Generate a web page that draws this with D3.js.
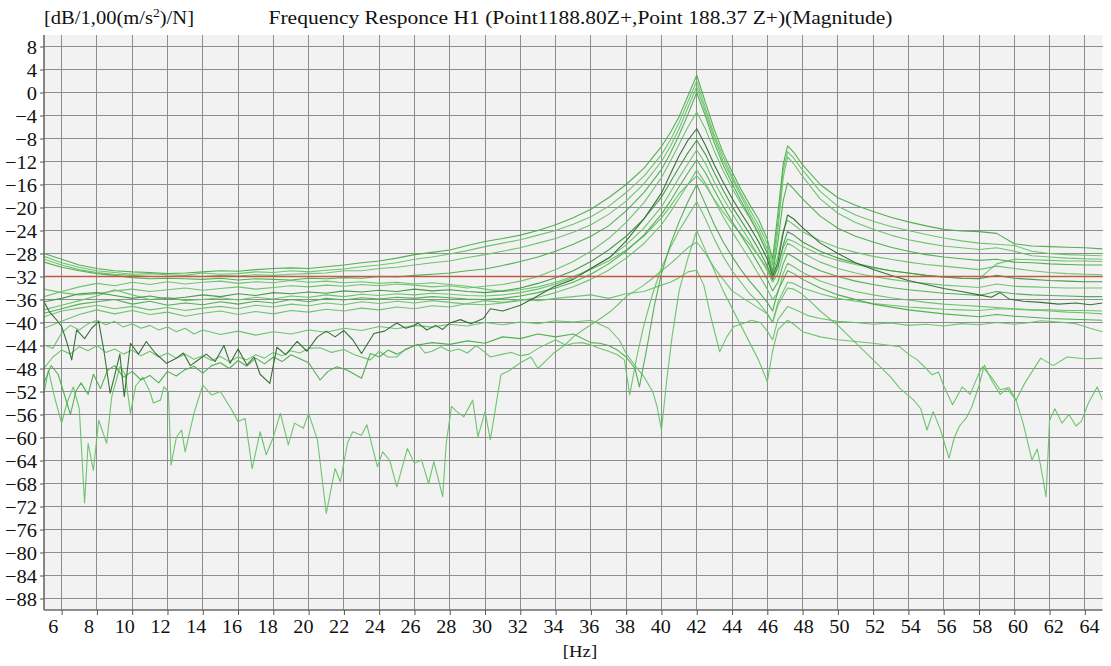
<!DOCTYPE html>
<html>
<head>
<meta charset="utf-8">
<script src="https://cdn.jsdelivr.net/npm/d3@7"></script>
<style>
  html, body { margin: 0; padding: 0; background: #ffffff; }
  svg { display: block; }
  svg text { font-family: "Liberation Serif", "Times New Roman", serif; fill: #111; }
</style>
</head>
<body>
<svg id="chart" width="1111" height="666"></svg>
<script>
// ---- axis ticks ----
const xTicks = d3.range(6, 65, 2);          // 6 .. 64 Hz
const yTicks = d3.range(-88, 9, 4);         // -88 .. 8 dB
const refLevel = -32;                        // reference level line (dB)

// ---- shared frequency grid for the smooth responses (Hz) ----
const freqCoarse = [5,6,7,8,9,10,11,12,13,14,15,16,17,18,19,20,21,22,23,24,25,26,27,28,29,30,31,32,33,34,
  35,36,37,38,39,40,40.5,41,41.5,42,42.5,43,43.5,44,44.5,45,45.5,46,46.3,46.6,46.9,47.15,47.5,48,
  49,50,51,52,53,54,55,56,57,58,59,60,61,62,63,64,65];

// ---- magnitudes on freqCoarse (dB) ----
const u1 = [-28.0,-29.0,-30.0,-30.6,-31.0,-31.2,-31.3,-31.5,-31.4,-31.2,
  -31.0,-31.1,-30.8,-30.6,-30.5,-30.6,-30.3,-30.0,-29.6,-29.3,
  -28.8,-28.2,-27.8,-27.4,-26.6,-25.9,-25.4,-24.8,-24.0,-23.0,
  -21.8,-20.3,-18.3,-16.0,-13.2,-9.4,
  -7.0,-4.2,-0.6,3.0,-1.8,-6.5,-10.5,-13.8,-16.8,-19.5,-22.0,-25.5,
  -29.0,-21.0,-12.5,-9.3,-10.4,-12.6,
  -16.0,-18.3,-19.6,-20.7,-21.7,-22.5,-23.2,-23.8,-24.1,
  -24.2,-24.5,-26.3,-26.7,-26.8,-26.9,-27.0,-27.2];
const u2 = [-28.5,-29.6,-30.4,-31.0,-31.3,-31.6,-31.5,-31.7,-31.8,-31.4,
  -31.6,-31.5,-31.2,-31.3,-31.0,-31.2,-30.9,-30.7,-30.3,-30.0,
  -29.6,-29.0,-28.6,-28.1,-27.5,-26.8,-26.2,-25.6,-24.8,-24.0,
  -22.9,-21.6,-19.8,-17.4,-14.6,-10.8,
  -8.3,-5.2,-1.6,2.0,-2.8,-7.4,-11.2,-14.5,-17.5,-20.3,-23.0,-26.3,
  -30.0,-22.5,-13.5,-10.3,-11.4,-13.5,
  -17.2,-19.8,-21.3,-22.4,-23.3,-24.0,-24.7,-25.3,-25.8,
  -26.2,-26.4,-26.6,-27.6,-28.0,-28.2,-28.3,-28.4];
const u3 = [-29.0,-30.0,-30.8,-31.3,-31.6,-31.8,-32.0,-32.0,-31.9,-32.0,
  -31.8,-31.9,-31.7,-31.8,-31.6,-31.5,-31.4,-31.0,-31.0,-30.6,
  -30.4,-30.0,-29.6,-29.3,-28.7,-28.2,-27.6,-27.0,-26.2,-25.4,
  -24.3,-23.0,-21.2,-18.9,-15.9,-12.0,
  -9.4,-6.3,-2.6,1.0,-3.5,-8.0,-11.9,-15.0,-18.0,-21.0,-23.8,-27.2,
  -31.0,-24.0,-14.8,-11.2,-12.4,-14.6,
  -18.5,-21.0,-22.6,-23.8,-24.8,-25.6,-26.2,-26.7,-27.0,
  -27.3,-27.0,-27.6,-28.4,-28.6,-28.8,-28.9,-29.0];
const u4 = [-29.5,-30.4,-31.0,-31.5,-31.8,-32.2,-32.4,-32.3,-32.4,-32.5,
  -32.3,-32.6,-32.4,-32.5,-32.6,-32.3,-32.4,-32.2,-32.3,-32.0,
  -32.1,-31.8,-31.6,-31.4,-31.0,-30.7,-30.1,-29.4,-28.6,-27.6,
  -26.4,-25.0,-23.2,-20.6,-17.4,-13.4,
  -10.6,-7.4,-3.8,0.0,-4.2,-8.8,-12.6,-15.8,-18.8,-21.6,-24.6,-28.0,
  -31.5,-26.0,-18.8,-15.7,-16.8,-18.5,
  -21.5,-23.6,-25.0,-26.0,-26.9,-27.6,-28.2,-28.6,-28.9,
  -29.2,-29.0,-29.5,-29.6,-29.8,-29.9,-30.0,-30.0];
const m1 = [-34.2,-34.8,-35.2,-35.0,-34.5,-34.2,-34.6,-34.3,-34.0,-34.4,
  -34.1,-33.8,-34.2,-33.9,-33.6,-33.8,-33.5,-33.7,-33.4,-33.6,
  -33.3,-33.5,-33.8,-33.6,-34.0,-33.7,-33.4,-32.8,-32.0,-30.8,
  -29.4,-27.6,-25.4,-22.6,-19.2,-14.8,
  -12.0,-9.0,-6.0,-3.4,-6.4,-10.2,-13.6,-16.6,-19.3,-21.8,-24.5,-28.0,
  -31.5,-28.5,-24.0,-22.2,-23.0,-24.2,
  -25.8,-27.0,-27.8,-28.5,-29.0,-29.5,-29.9,-30.2,-30.5,
  -30.8,-30.2,-30.6,-31.0,-31.3,-31.5,-31.6,-31.7];
const m2 = [-36.4,-35.8,-35.0,-34.8,-35.3,-35.8,-35.4,-35.9,-35.6,-35.2,
  -35.5,-35.0,-35.3,-34.8,-35.0,-34.7,-34.9,-34.5,-34.7,-34.4,
  -34.6,-34.2,-34.5,-34.3,-34.6,-34.8,-34.5,-34.0,-33.2,-32.2,
  -31.0,-29.4,-27.4,-25.0,-22.0,-18.2,
  -15.6,-13.0,-10.5,-8.3,-10.8,-14.0,-17.0,-19.8,-22.2,-24.6,-27.2,-30.2,
  -32.5,-30.5,-26.5,-24.2,-24.8,-26.0,
  -27.6,-28.8,-29.7,-30.4,-31.0,-31.4,-31.8,-32.1,-32.3,
  -32.4,-31.8,-32.3,-32.5,-32.7,-32.8,-32.9,-32.9];
const m3 = [-37.8,-37.0,-36.2,-35.4,-34.3,-35.2,-36.0,-35.6,-36.2,-36.0,
  -35.7,-36.1,-35.6,-35.9,-35.4,-35.6,-35.2,-35.5,-35.1,-35.3,
  -35.0,-35.2,-34.9,-35.1,-35.3,-35.4,-35.2,-34.8,-34.2,-33.3,
  -32.2,-30.6,-28.8,-26.5,-23.6,-19.9,
  -17.4,-14.8,-12.4,-10.0,-12.4,-15.6,-18.4,-21.0,-23.4,-25.8,-28.4,-31.0,
  -33.0,-31.5,-28.2,-26.2,-26.8,-27.9,
  -29.5,-30.6,-31.4,-32.0,-32.5,-32.9,-33.2,-33.5,-33.7,
  -33.9,-33.3,-33.7,-33.8,-33.9,-34.0,-34.0,-34.0];
const m4 = [-38.4,-37.6,-36.8,-36.4,-36.0,-36.8,-36.3,-37.0,-36.6,-36.9,
  -36.4,-36.8,-36.3,-36.6,-36.0,-36.4,-35.8,-36.1,-35.7,-35.9,
  -35.6,-35.8,-35.5,-35.7,-35.9,-36.0,-35.8,-35.4,-34.8,-34.0,
  -33.0,-31.6,-29.8,-27.6,-24.8,-21.2,
  -18.9,-16.4,-14.0,-11.7,-14.0,-17.0,-19.8,-22.4,-24.8,-27.2,-29.8,-32.5,
  -34.5,-33.0,-29.8,-28.0,-28.6,-29.6,
  -31.0,-32.0,-32.8,-33.4,-33.9,-34.3,-34.6,-34.9,-35.1,
  -35.3,-34.6,-35.0,-35.2,-35.3,-35.4,-35.5,-35.5];
const m5 = [-39.0,-38.0,-37.5,-37.0,-37.6,-37.2,-37.8,-37.4,-37.9,-37.5,
  -37.2,-37.6,-37.0,-37.3,-36.8,-37.1,-36.6,-36.9,-36.4,-36.7,
  -36.3,-36.6,-36.2,-36.5,-36.8,-36.9,-36.6,-36.2,-35.6,-34.8,
  -33.8,-32.5,-30.9,-28.8,-26.3,-23.0,
  -20.8,-18.4,-16.0,-13.5,-15.8,-18.8,-21.6,-24.2,-26.6,-29.0,-31.6,-34.2,
  -36.0,-34.8,-31.5,-29.7,-30.3,-31.3,
  -32.8,-33.8,-34.6,-35.2,-35.7,-36.1,-36.5,-36.8,-37.0,
  -37.2,-37.4,-37.6,-37.8,-38.0,-38.2,-38.3,-38.5];
const m6 = [-35.5,-34.6,-33.8,-33.2,-33.6,-33.0,-33.4,-32.9,-33.3,-33.0,
  -32.8,-33.2,-32.9,-33.1,-32.7,-33.0,-32.8,-33.1,-32.9,-33.2,
  -33.0,-33.3,-33.1,-33.4,-33.7,-34.2,-34.6,-34.3,-33.8,-33.0,
  -32.0,-30.8,-29.3,-27.4,-25.0,-21.8,
  -19.8,-17.6,-16.0,-14.5,-16.2,-18.6,-20.8,-22.8,-24.6,-26.4,-28.4,-30.6,
  -32.6,-30.0,-27.0,-25.5,-25.9,-26.8,
  -28.2,-29.2,-29.9,-30.5,-31.0,-31.4,-31.8,-32.1,-32.3,
  -32.4,-29.8,-29.0,-29.1,-29.2,-29.3,-29.3,-29.4];

// ---- responses with their own frequency points: [Hz, dB] ----
const darkTrace = [[5,-36.4],[5.3,-38.1],[5.7,-39.5],[6,-40.7],[6.3,-43.5],[6.57,-46.5],[6.85,-41.3],[7.3,-42.8],
  [7.7,-41],[8.1,-39.8],[8.4,-45],[8.75,-52.3],[9,-49.3],[9.3,-45.5],[9.55,-52.9],[9.9,-43.6],[10.35,-45.5],
  [10.8,-43.3],[11.3,-45.3],[11.95,-47.1],[12.5,-46.2],[12.9,-45.3],[13.3,-47.5],[13.66,-46.7],[14.2,-45.5],
  [14.7,-46.8],[15.2,-44],[15.55,-47.1],[16,-44.6],[16.5,-47.4],[16.9,-46],[17.25,-49],[17.8,-50.6],[18.2,-44.3],
  [18.7,-45.6],[19.35,-43.3],[19.9,-45],[20.5,-42.5],[21,-41.5],[21.5,-42.5],[22,-41.4],[22.5,-43],[23,-45.4],
  [23.7,-41.9],[24.3,-41.5],[25,-40.1],[25.5,-41],[25.95,-40.6],[26.2,-40.1],[26.7,-41.3],[27.2,-40.5],[27.6,-41.2],
  [28,-40.1],[28.6,-39.5],[29.2,-40.2],[29.9,-39.3],[30.3,-37.6],[31,-38],[32,-37],[32.75,-35.8],[33.9,-33.8],
  [35,-32.5],[36,-30.6],[37.1,-28.6],[38,-25.8],[39,-22],[40,-17.5],[40.5,-14.2],[41,-11],[41.5,-8.3],[42,-6.3],
  [42.5,-9.2],[43,-12.6],[43.5,-15.6],[44,-18.4],[44.5,-20.9],[45,-23.3],[45.5,-25.9],[46,-29],[46.3,-32],
  [46.6,-29.5],[46.9,-24.5],[47.15,-21.3],[47.5,-22],[48,-23.5],[49,-26.2],[50,-28],[51,-29.6],[52,-30.8],
  [53,-31.8],[54,-32.7],[55,-33.4],[56,-34.1],[57,-34.6],[58,-35.2],[58.7,-35.6],[59.2,-34.8],[59.7,-35.9],
  [60.5,-36.3],[61.5,-36.5],[62.5,-36.8],[63.5,-36.6],[64.3,-36.9],[65,-36.6]];

const r1 = [[5,-43.9],[5.5,-44.5],[6,-41.8],[6.5,-40.5],[7,-41.3],[7.5,-40.2],[8,-39.6],[8.5,-40.4],[9,-39.8],
  [9.5,-40.8],[10,-40.2],[10.5,-41],[11,-40.5],[11.5,-41.3],[12,-40.8],[12.5,-41.6],[13,-41],[13.5,-42],[14,-41.3],
  [15,-42.1],[16,-41.5],[17,-42.2],[18,-41.6],[19,-42],[20,-41.3],[21,-41.7],[22,-41],[23,-41.4],[24,-40.7],
  [25,-41.1],[26,-40.5],[27,-40.8],[28,-40.3],[29,-40.6],[30,-40],[31,-40.4],[32,-39.9],[33,-40.2],[34,-39.7],
  [35,-39.9],[36,-39.6],[37,-41],[37.6,-43],[38,-45.4],[38.5,-47.5],[39,-49.4],[39.5,-52],[39.75,-54.6],[40,-58.7],
  [40.3,-50],[40.6,-42.5],[41,-34.5],[41.5,-28.8],[42,-24],[42.5,-27.5],[43,-31],[43.5,-34.5],[44,-37.5],
  [44.5,-40.5],[45,-43.5],[45.5,-46.5],[46,-50.3],[46.3,-45],[46.6,-41.3],[47.15,-39.6],[47.5,-40.3],[48,-41.6],
  [49,-42.5],[50,-43],[51,-43.3],[52,-43.6],[53,-44],[53.5,-44.2],[54,-45.5],[54.5,-46.5],[55,-48],[55.35,-49.1],
  [55.7,-48.6],[56,-51],[56.5,-54.3],[57.05,-51.2],[57.5,-52.5],[58,-48.8],[58.2,-47.7],[58.7,-49.5],[59.2,-51.7],
  [59.7,-51.3],[60.1,-53.5],[60.6,-50.5],[61.5,-46.2],[62.2,-47.5],[63,-46],[64,-46.3],[65,-46.2]];

const r2 = [[5,-48],[5.5,-46],[6,-44.8],[6.5,-45.5],[7,-44.2],[7.5,-44.9],[8,-44],[8.5,-45.2],[9,-44.6],[9.5,-45.5],
  [10,-44.8],[10.5,-45.8],[11,-45],[11.5,-46],[12,-45.3],[12.5,-46.2],[13,-45.5],[13.5,-46.4],[14,-45.8],[14.5,-46.6],
  [15,-45.9],[15.5,-46.8],[16,-46],[16.5,-46.5],[17,-45.6],[17.5,-46.2],[18,-45.2],[18.5,-45.8],[19,-44.9],
  [19.5,-45.3],[20,-44.5],[20.65,-44.4],[21.3,-45.2],[22,-44.7],[22.6,-45.6],[23.5,-46.5],[24,-45],[24.5,-46],
  [25,-46],[25.5,-44.6],[26.2,-43.8],[26.6,-45.3],[27,-45],[27.5,-44.2],[28,-45],[28.5,-44.6],[29,-45.3],[29.5,-44],
  [30,-45.2],[30.3,-46],[31,-45.5],[31.5,-45.2],[32,-45.8],[32.5,-45.5],[33,-44.5],[34,-43],[34.6,-44],[35,-43.6],
  [35.5,-43.5],[36,-43.9],[36.4,-44.4],[37,-45],[37.5,-45.6],[37.9,-46.5],[38.2,-52.6],[38.6,-46],[39,-40.5],
  [39.5,-35],[40,-30.5],[40.5,-27],[41,-24],[41.5,-21.5],[42,-19],[42.5,-22],[43,-25.5],[43.5,-28.5],[44,-31],
  [44.5,-33],[45,-35],[45.5,-36.5],[46,-38.5],[46.3,-40],[46.6,-36.5],[47.15,-33],[47.5,-33.2],[48,-34],[49,-35],
  [50,-35.8],[51,-36.3],[52,-36.7],[53,-37],[54,-37.3],[55,-37.5],[56,-37.7],[57,-37.8],[58,-37.9],[59,-37.6],
  [60,-37.7],[61,-37.8],[62,-37.8],[63,-37.9],[64,-37.9],[65,-38]];

const r3 = [[5,-50.5],[5.4,-47.5],[5.8,-49],[6.2,-53],[6.5,-56],[6.8,-52],[7.1,-50.5],[7.5,-52.5],[7.8,-49],
  [8.2,-51.5],[8.6,-48.3],[9,-47.5],[9.5,-49.5],[10,-48.5],[10.5,-50],[11,-49.2],[11.5,-50.5],[12,-48.5],
  [12.5,-49.3],[13,-48.2],[13.5,-47.6],[14,-48.8],[14.5,-47.5],[15,-47],[15.5,-48],[16,-46.6],[16.5,-47.6],
  [17,-46.2],[17.5,-47.2],[18,-46],[18.5,-46.8],[19,-45.6],[19.5,-46.3],[20,-47],[20.65,-50],[21.1,-48.5],
  [21.6,-47.7],[22.2,-48.3],[23,-49.7],[23.5,-45.4],[24,-46],[24.5,-44.8],[25,-45.5],[26,-44],[27,-43.5],
  [28,-43.8],[29,-43.2],[30,-43.6],[31,-42.5],[32,-42.8],[33,-42],[34,-42.5],[35,-42],[36,-43.5],[36.5,-43.6],
  [37,-44],[37.5,-44.8],[38,-46],[38.5,-48],[38.75,-51.2],[39.2,-44],[39.6,-37],[40,-31.5],[40.5,-26.5],
  [41,-22.5],[41.5,-19],[42,-16],[42.5,-19.5],[43,-23],[43.5,-26],[44,-28.5],[44.5,-30.8],[45,-32.8],[45.5,-34.6],
  [46,-36.5],[46.3,-38],[46.6,-34.5],[47.15,-31],[47.5,-31.5],[48,-32.5],[49,-34],[50,-35.2],[52,-36.8],
  [54,-37.8],[56,-38.5],[58,-39],[59,-38.6],[60,-38.9],[62,-39.3],[65,-39.6]];

const r4 = [[5,-41],[6,-39.8],[7,-38.6],[8,-37.8],[9,-38.5],[10,-37.9],[11,-38.6],[12,-38.2],[13,-38.9],[14,-38.4],
  [15,-38],[16,-38.6],[17,-38.1],[18,-38.5],[19,-37.9],[20,-38.2],[21,-37.7],[22,-38],[23,-37.5],[24,-37.8],
  [25,-37.3],[26,-37.6],[27,-37.1],[28,-37.3],[29,-36.7],[30,-36.2],[31,-36.5],[32,-36],[33,-36.2],[34,-35.8],
  [35,-35.5],[36,-35.2],[37,-35.8],[38,-35],[39,-34.6],[40,-33.5],[40.5,-33],[41,-32.2],[41.5,-31.2],[42,-30.9],
  [42.4,-33.5],[42.8,-39],[43.3,-45.1],[43.7,-42.5],[44.1,-40.7],[44.6,-40.2],[45.1,-39.6],[45.6,-40],[46,-41.5],
  [46.3,-43],[46.6,-39.5],[47.15,-37.2],[47.6,-37.8],[48.3,-38.8],[49,-39.3],[50,-39.8],[51,-40],[52,-40.3],
  [53,-40.1],[54,-40.5],[55,-40.3],[56,-40.6],[57,-40.2],[58,-40.4],[59,-40],[60,-40.3],[60.7,-40.1],[61.5,-39.7],
  [62.5,-39.9],[63.5,-40.2],[64.3,-41],[65,-41.6]];

const n1 = [[5,-52.3],[5.25,-48.3],[5.6,-53],[6,-57.5],[6.3,-54],[6.66,-51.2],[7,-55],[7.3,-71.4],[7.5,-61],
  [7.8,-65.7],[8.1,-57],[8.55,-61],[8.84,-52.9],[9.1,-50],[9.3,-47.7],[9.6,-49],[9.9,-55.8],[10.2,-51],[10.6,-49.5],
  [11,-52],[11.2,-54],[11.6,-53.5],[11.8,-51.2],[12.05,-52],[12.2,-64.8],[12.5,-60],[12.8,-58.7],[13,-62.5],
  [13.5,-55.8],[13.85,-52.3],[14,-50.9],[14.5,-52.6],[15,-52],[15.4,-54],[15.7,-55.5],[16,-57.2],[16.4,-56.7],
  [16.8,-65.4],[17.25,-59],[17.6,-63],[18,-59.9],[18.4,-55.8],[18.85,-61.3],[19.2,-57.5],[19.7,-58.4],[20,-55.8],
  [20.5,-60.4],[21,-73.2],[21.5,-65.4],[21.8,-67.7],[22.2,-61],[22.5,-59],[23,-59.6],[23.3,-57.8],[23.9,-65.1],
  [24.2,-62.5],[24.6,-64],[25,-68.6],[25.6,-61.9],[26,-64.5],[26.4,-63.9],[26.8,-68],[27.1,-64.2],[27.6,-70.3],
  [27.8,-61],[28.1,-54.6],[28.4,-55.5],[28.8,-56.4],[29.3,-53.5],[29.6,-59.9],[30,-55.5],[30.3,-60.4],[30.9,-49.1],
  [31.4,-48.3],[32,-47],[32.6,-46],[33,-48],[33.5,-46.5],[33.9,-45.3],[34.5,-44],[35,-42.5],[35.7,-41],[36.4,-39.6],
  [37.1,-38.1],[37.5,-37],[38,-35.5],[38.5,-34.5],[39,-33.5],[39.5,-32.3],[40,-31],[40.5,-29.8],[41,-28.4],
  [41.5,-27],[42,-26],[42.5,-28],[43,-30.5],[43.5,-32.5],[44,-34.5],[44.5,-35.5],[45,-36.5],[45.5,-37.5],[46,-38.5],
  [46.3,-40],[46.6,-37],[47.15,-34],[47.5,-34.2],[47.9,-34.9],[48.5,-36.5],[49,-38],[50,-40.5],[51,-43.5],
  [52,-46.5],[53,-49.5],[53.5,-51.4],[54.3,-53.5],[54.7,-55],[55.05,-58.7],[55.4,-55.5],[55.8,-58.5],[56.3,-63.6],
  [56.6,-60],[56.9,-58],[57.3,-56.5],[57.6,-54.6],[58,-51],[58.3,-47.4],[58.7,-50],[59.2,-52.5],[59.6,-51.5],
  [60.1,-53.5],[60.5,-57.5],[61,-63.9],[61.3,-62],[61.5,-65],[61.8,-70.3],[62,-57],[62.3,-55],[62.7,-57.5],
  [63.1,-56],[63.5,-58],[63.8,-57.2],[64.2,-54],[64.7,-51.2],[65,-53.5]];

// ---- layout ----
const svg = d3.select("#chart");
const plot = { left: 44, right: 1102.5, top: 35, bottom: 610 };

const x = d3.scaleLinear().domain([5, 65]).range([plot.left, plot.right]);
const y = d3.scaleLinear().domain([-90, 10]).range([plot.bottom, plot.top]);
// the frequency labels sit on a slightly wider spread than the grid itself
const xLabel = d3.scaleLinear().domain([6, 64]).range([52.8, 1089]);

// plot background
svg.append("rect")
  .attr("x", plot.left).attr("y", plot.top)
  .attr("width", plot.right - plot.left).attr("height", plot.bottom - plot.top)
  .attr("fill", "#f2f2f2");

// grid
const grid = svg.append("g").attr("stroke", "#8e8e8e").attr("stroke-width", 1).attr("shape-rendering", "crispEdges");
grid.selectAll("line.v").data(xTicks).join("line")
  .attr("class", "v")
  .attr("x1", d => x(d)).attr("x2", d => x(d))
  .attr("y1", plot.top).attr("y2", plot.bottom);
grid.selectAll("line.h").data(yTicks).join("line")
  .attr("class", "h")
  .attr("x1", plot.left).attr("x2", plot.right)
  .attr("y1", d => y(d)).attr("y2", d => y(d));

// clip for the traces
svg.append("defs").append("clipPath").attr("id", "plotClip")
  .append("rect")
  .attr("x", plot.left).attr("y", plot.top)
  .attr("width", plot.right - plot.left).attr("height", plot.bottom - plot.top);

const light = "#66c266", mid = "#4aad4a", deep = "#3b9a3b", dark = "#2b6b2d";
const traces = [
  { pts: d3.zip(freqCoarse, u2), color: light },
  { pts: d3.zip(freqCoarse, u3), color: light },
  { pts: d3.zip(freqCoarse, m1), color: light },
  { pts: d3.zip(freqCoarse, m3), color: light },
  { pts: d3.zip(freqCoarse, m5), color: light },
  { pts: d3.zip(freqCoarse, m6), color: light },
  { pts: r1, color: light },
  { pts: r2, color: light },
  { pts: r4, color: light },
  { pts: n1, color: light },
  { pts: d3.zip(freqCoarse, u1), color: mid },
  { pts: d3.zip(freqCoarse, u4), color: mid },
  { pts: d3.zip(freqCoarse, m4), color: mid },
  { pts: r3, color: mid },
  { pts: d3.zip(freqCoarse, m2), color: deep },
  { pts: darkTrace, color: dark }
];

const line = d3.line().x(d => x(d[0])).y(d => y(d[1]));
svg.append("g").attr("clip-path", "url(#plotClip)")
  .selectAll("path").data(traces).join("path")
  .attr("d", d => line(d.pts))
  .attr("fill", "none")
  .attr("stroke", d => d.color)
  .attr("stroke-width", 1.1)
  .attr("stroke-opacity", 0.95)
  .attr("stroke-linejoin", "round");

// reference level
svg.append("line")
  .attr("x1", plot.left).attr("x2", plot.right)
  .attr("y1", y(refLevel)).attr("y2", y(refLevel))
  .attr("stroke", "#bf5b43").attr("stroke-width", 1.6);

// axes
function stretch(sel, k) {
  sel.each(function () {
    const w = this.getComputedTextLength();
    d3.select(this).attr("textLength", w * k).attr("lengthAdjust", "spacingAndGlyphs");
  });
}

const yAxis = svg.append("g")
  .attr("transform", `translate(${plot.left},0)`)
  .call(d3.axisLeft(y).tickValues(yTicks).tickSize(4).tickSizeOuter(0).tickPadding(3).tickFormat(d3.format("d")));
yAxis.attr("font-family", null).attr("font-size", null);
yAxis.select(".domain").attr("stroke", "#6a6a6a").attr("stroke-width", 1.6)
  .attr("d", `M0,${plot.top}V${plot.bottom}`);
yAxis.selectAll(".tick line").attr("stroke", "#555");
yAxis.selectAll(".tick text")
  .style("font-size", "19px").attr("dy", "0.35em");
stretch(yAxis.selectAll(".tick text"), 1.08);

const xAxis = svg.append("g")
  .attr("transform", `translate(0,${plot.bottom})`)
  .call(d3.axisBottom(x).tickValues(xTicks).tickSize(5).tickSizeOuter(0).tickFormat(""));
xAxis.select(".domain").attr("stroke", "#6a6a6a").attr("stroke-width", 1.6)
  .attr("d", `M${plot.left},0H${plot.right}`);
xAxis.selectAll(".tick line").attr("stroke", "#555");

const xLabels = svg.append("g")
  .attr("transform", `translate(0,${plot.bottom})`)
  .call(d3.axisBottom(xLabel).tickValues(xTicks).tickSize(0).tickPadding(10).tickFormat(d3.format("d")));
xLabels.attr("font-family", null).attr("font-size", null);
xLabels.select(".domain").remove();
xLabels.selectAll(".tick text").style("font-size", "19px");
stretch(xLabels.selectAll(".tick text"), 1.06);

// titles
const unit = svg.append("text")
  .attr("x", 44).attr("y", 24)
  .style("font-size", "18px");
unit.append("tspan").text("[dB/1,00(m/s");
unit.append("tspan").style("font-size", "12px").attr("dy", -7).text("2");
unit.append("tspan").attr("dy", 7).text(")/N]");
unit.attr("textLength", 150).attr("lengthAdjust", "spacingAndGlyphs");

svg.append("text")
  .attr("x", 580.5).attr("y", 24)
  .attr("text-anchor", "middle")
  .style("font-size", "18px")
  .attr("textLength", 624).attr("lengthAdjust", "spacingAndGlyphs")
  .text("Frequency Responce H1 (Point1188.80Z+,Point 188.37 Z+)(Magnitude)");

const hz = svg.append("text")
  .attr("x", 580).attr("y", 657)
  .attr("text-anchor", "middle")
  .style("font-size", "17px")
  .text("[Hz]");
stretch(hz, 1.1);
</script>
</body>
</html>
